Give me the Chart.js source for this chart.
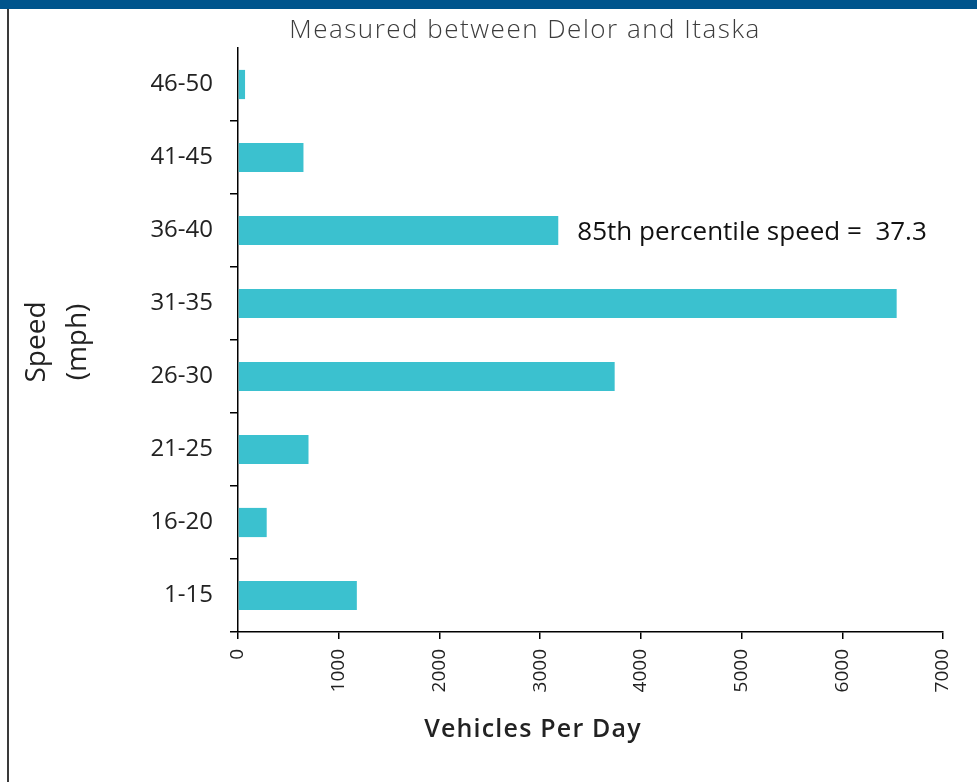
<!DOCTYPE html>
<html>
<head>
<meta charset="utf-8">
<script src="https://cdn.jsdelivr.net/npm/chart.js@4/dist/chart.umd.min.js"></script>
<style>
  html, body { margin: 0; padding: 0; background: #fff; }
  #wrap { position: relative; width: 977px; height: 782px; overflow: hidden; }
  #band { position: absolute; left: 0; top: 0; width: 977px; height: 9px; background: #00548c; }
  #edge { position: absolute; left: 7px; top: 9px; width: 2px; height: 773px; background: #3a3a3a; }
  #chart { position: absolute; left: 0; top: 0; }
</style>
</head>
<body>
<div id="wrap">
  <canvas id="chart" width="977" height="782"></canvas>
  <div id="band"></div>
  <div id="edge"></div>
</div>
<script>
// speed bins, top to bottom as shown
const categories = ['46-50', '41-45', '36-40', '31-35', '26-30', '21-25', '16-20', '1-15'];
const vehicles = [70, 650, 3180, 6540, 3740, 700, 285, 1180];
const xTickValues = [0, 1000, 2000, 3000, 4000, 5000, 6000, 7000];

const chartTitle = 'Measured between Delor and Itaska';
const xTitle = 'Vehicles Per Day';
const yTitle = ['Speed', '(mph)'];
const note = '85th percentile speed =  37.3';
const noteBin = '36-40';

const textPlugin = {
    id: 'texts',
    afterDraw(chart) {
        const ctx = chart.ctx;
        const xs = chart.scales.x;
        const ys = chart.scales.y;
        ctx.save();

        // title
        ctx.fillStyle = '#3c3c3c';
        ctx.font = '300 26px "Open Sans", Lato, sans-serif';
        ctx.letterSpacing = '1.5px';
        ctx.textAlign = 'center';
        ctx.textBaseline = 'middle';
        ctx.fillText(chartTitle, 525, 31);

        // x axis title
        ctx.fillStyle = '#222';
        ctx.font = '600 25px "Open Sans", sans-serif';
        ctx.letterSpacing = '1.2px';
        ctx.fillText(xTitle, 533, 730);

        // y axis title, two rotated lines
        ctx.letterSpacing = '0px';
        ctx.font = '28px "Open Sans", sans-serif';
        ctx.translate(0, 342);
        ctx.rotate(-Math.PI / 2);
        ctx.fillText(yTitle[0], 0, 37);
        ctx.fillText(yTitle[1], 0, 78);
        ctx.restore();

        // percentile note next to its bar
        ctx.save();
        const idx = categories.indexOf(noteBin);
        ctx.fillStyle = '#111';
        ctx.font = '26px "Open Sans", sans-serif';
        ctx.textAlign = 'left';
        ctx.textBaseline = 'middle';
        ctx.fillText(note, xs.getPixelForValue(vehicles[idx]) + 19, ys.getPixelForValue(idx) + 2);
        ctx.restore();
    }
};

new Chart(document.getElementById('chart'), {
    type: 'bar',
    data: {
        labels: categories,
        datasets: [{
            data: vehicles,
            backgroundColor: '#3bc1cf',
            borderWidth: 0,
            categoryPercentage: 1,
            barPercentage: 0.4
        }]
    },
    options: {
        indexAxis: 'y',
        responsive: false,
        animation: false,
        layout: { padding: { top: 48, right: 34, bottom: 0, left: 0 } },
        plugins: {
            legend: { display: false },
            tooltip: { enabled: false }
        },
        scales: {
            x: {
                min: 0,
                max: 7000,
                afterBuildTicks: (scale) => { scale.ticks = xTickValues.map(v => ({ value: v })); },
                afterFit: (scale) => { scale.height = 150; },
                border: { color: '#000', width: 1.5 },
                grid: { drawOnChartArea: false, drawTicks: true, tickLength: 7, color: '#000', lineWidth: 1.5 },
                ticks: {
                    minRotation: 90,
                    maxRotation: 90,
                    padding: 10,
                    color: '#222',
                    font: { family: '"Open Sans", sans-serif', size: 19 },
                    callback: (v) => String(v)
                }
            },
            y: {
                afterFit: (scale) => { scale.width = 238; },
                border: { color: '#000', width: 1.5 },
                grid: {
                    drawOnChartArea: false,
                    drawTicks: true,
                    tickLength: 8,
                    lineWidth: 1.5,
                    color: (c) => (c.index === 0 ? 'rgba(0,0,0,0)' : '#000')
                },
                ticks: {
                    padding: 17,
                    color: '#222',
                    font: { family: '"Open Sans", sans-serif', size: 24 }
                }
            }
        }
    },
    plugins: [textPlugin]
});
</script>
</body>
</html>
